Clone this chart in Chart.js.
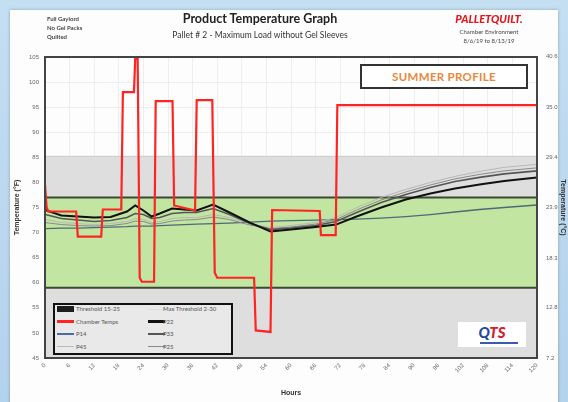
<!DOCTYPE html>
<html lang="en">
<head>
    <meta charset="UTF-8">
    <title>Product Temperature Graph</title>
    <style>
        body {
            margin: 0;
            width: 568px;
            height: 402px;
            overflow: hidden;
            position: relative;
            background: linear-gradient(180deg, #c4def2, #b3d2ec);
            font-family: Lato, "Liberation Sans", sans-serif;
        }
        .card {
            position: absolute;
            left: 10px;
            top: 10px;
            width: 548px;
            height: 400px;
            background: #fdfdfd;
            box-shadow: 0 0 3px rgba(0, 0, 0, 0.25);
        }
        #chart {
            position: absolute;
            left: 0;
            top: 0;
        }
        .txt {
            position: absolute;
            white-space: nowrap;
        }
        .note {
            left: 47px;
            top: 14px;
            font-size: 6px;
            line-height: 9px;
            color: #444;
            font-weight: bold;
        }
        .title {
            left: 155px;
            width: 210px;
            top: 11px;
            text-align: center;
            font-size: 12.5px;
            font-weight: bold;
            color: #222;
        }
        .subtitle {
            left: 135px;
            width: 250px;
            top: 30px;
            text-align: center;
            font-size: 8.5px;
            color: #333;
        }
        .brand {
            left: 445px;
            width: 88px;
            top: 12px;
            text-align: center;
            font-size: 11px;
            font-weight: 900;
            font-style: italic;
            color: #e3161e;
        }
        .env {
            left: 445px;
            width: 88px;
            top: 27px;
            text-align: center;
            font-size: 6px;
            line-height: 9px;
            color: #444;
        }
        .profile {
            position: absolute;
            left: 360px;
            top: 64px;
            width: 164px;
            height: 21px;
            border: 2px solid #333;
            background: #fff;
            color: #e8893a;
            font-weight: bold;
            font-size: 11.5px;
            letter-spacing: 0.3px;
            line-height: 21px;
            text-align: center;
        }
        .legend {
            position: absolute;
            left: 53px;
            top: 303px;
            width: 176px;
            height: 48px;
            border: 2px solid #111;
            background: #e9e9e9;
        }
        .sw {
            position: absolute;
        }
        .lt {
            position: absolute;
            font-size: 6px;
            color: #555;
            white-space: nowrap;
            line-height: 8px;
        }
        .logo {
            position: absolute;
            left: 458px;
            top: 322px;
            width: 68px;
            height: 25px;
            background: #fff;
            text-align: center;
        }
        .logo span {
            font-size: 15px;
            font-weight: 900;
            font-style: italic;
            color: #d3202d;
            line-height: 19px;
        }
        .logo i {
            position: absolute;
            left: 22px;
            top: 20px;
            width: 38px;
            height: 2px;
            background: #3a5bb0;
        }
    </style>
    <script src="https://cdn.jsdelivr.net/npm/chart.js"></script>
</head>
<body>
    <div class="card"></div>
    <canvas id="chart" width="568" height="402"></canvas>

    <div class="txt note">Full Gaylord<br>No Gel Packs<br>Quilted</div>
    <div class="txt title">Product Temperature Graph</div>
    <div class="txt subtitle">Pallet # 2 - Maximum Load without Gel Sleeves</div>
    <div class="txt brand">PALLETQUILT.</div>
    <div class="txt env">Chamber Environment<br>8/6/19 to 8/13/19</div>

    <div class="profile">SUMMER PROFILE</div>

    <div class="legend" id="legend"></div>

    <div class="logo"><span><span style="color:#2448a0">Q</span>TS</span><i></i></div>

    <script>
        // axis ticks
        const hourTicks = [0, 6, 12, 18, 24, 30, 36, 42, 48, 54, 60, 66, 72, 78, 84, 90, 96, 102, 108, 114, 120];
        const fahrenheitTicks = [45, 50, 55, 60, 65, 70, 75, 80, 85, 90, 95, 100, 105];
        const celsiusTicks = [7.2, 12.8, 18.3, 23.9, 29.4, 35.0, 40.6];

        // chamber (step profile)
        const chamberHours = [0, 0.4, 0.8, 7.6, 8.0, 13.7, 14.1, 18.6, 19.0, 21.7, 22.0, 22.6, 23.1, 23.6, 26.6, 27.0,
            31.1, 31.5, 36.6, 37.0, 40.8, 41.4, 42.0, 51.0, 51.4, 55.0, 55.4, 67.0, 67.3, 70.9, 71.3, 120];
        const chamberTemps = [79.5, 75.0, 74.2, 74.2, 69.2, 69.2, 74.6, 74.6, 98.0, 98.0, 104.6, 104.6, 61.0, 60.2, 60.2, 96.2,
            96.2, 75.4, 74.4, 96.4, 96.4, 62.0, 61.0, 61.0, 50.5, 50.2, 74.5, 74.3, 69.5, 69.5, 95.4, 95.4];

        // product probes
        const productHours = [0, 4, 8, 12, 16, 20, 22, 24, 26, 28, 31, 34, 37, 41, 45, 50, 55, 60, 66, 71, 76, 82, 88, 94, 100, 106, 112, 120];
        const p22 = [74.5, 73.4, 73.2, 73.0, 73.1, 74.2, 75.4, 74.4, 73.2, 73.8, 74.8, 74.6, 74.4, 75.6, 74.0, 72.0, 70.2, 70.6, 71.1, 71.6, 73.2, 75.0, 76.6, 77.8, 78.8, 79.6, 80.3, 81.0];
        const p33 = [73.6, 72.8, 72.5, 72.2, 72.4, 73.0, 73.8, 73.6, 72.8, 73.0, 73.8, 74.0, 74.0, 74.8, 73.6, 71.8, 70.6, 70.9, 71.4, 72.2, 74.0, 76.0, 77.6, 79.0, 80.2, 81.0, 81.7, 82.3];
        const p45 = [72.6, 72.0, 71.8, 71.6, 71.8, 72.2, 72.8, 72.6, 72.0, 72.2, 72.8, 73.0, 73.0, 73.6, 73.0, 71.8, 71.0, 71.4, 72.0, 73.0, 75.0, 77.0, 78.6, 80.0, 81.2, 82.2, 83.0, 83.6];
        const p25 = [72.0, 71.6, 71.4, 71.3, 71.4, 71.8, 72.3, 72.2, 71.7, 71.8, 72.3, 72.5, 72.6, 73.1, 72.6, 71.5, 70.8, 71.1, 71.7, 72.6, 74.5, 76.5, 78.1, 79.5, 80.7, 81.6, 82.3, 82.9];
        const p14 = [70.8, 70.9, 70.9, 71.0, 71.1, 71.2, 71.3, 71.3, 71.3, 71.4, 71.5, 71.6, 71.7, 71.8, 71.9, 72.1, 72.3, 72.4, 72.5, 72.6, 72.7, 72.9, 73.2, 73.6, 74.1, 74.6, 75.0, 75.5];

        // threshold bands (deg F)
        const bandHours = [0, 120];
        const thresholdLow = 59;
        const thresholdHigh = 77;
        const maxThresholdHigh = 85.2;

        const pts = (xs, ys) => xs.map((h, i) => ({ x: h, y: ys[i] }));
        const flat = v => bandHours.map(h => ({ x: h, y: v }));

        const line = (label, data, color, width, order) => ({
            label, data, borderColor: color, borderWidth: width, order,
            pointRadius: 0, tension: 0, fill: false
        });

        const frame = {
            id: 'frame',
            afterDatasetsDraw(chart) {
                const a = chart.chartArea, c = chart.ctx;
                c.save();
                c.strokeStyle = '#444';
                c.lineWidth = 2;
                c.strokeRect(a.left, a.top, a.right - a.left, a.bottom - a.top);
                c.restore();
            }
        };

        new Chart(document.getElementById('chart'), {
            type: 'line',
            data: {
                datasets: [
                    line('Chamber Temps', pts(chamberHours, chamberTemps), '#ff2424', 2.2, 1),
                    line('P22', pts(productHours, p22), '#111', 2, 2),
                    line('P33', pts(productHours, p33), '#555', 1.6, 3),
                    line('P45', pts(productHours, p45), '#b8b8b8', 1, 4),
                    line('P25', pts(productHours, p25), '#8a8a8a', 1, 5),
                    line('P14', pts(productHours, p14), '#4d6a78', 1.3, 6),
                    line('Threshold low', flat(thresholdLow), '#3b4a33', 2, 10),
                    Object.assign(line('Threshold 15-25', flat(thresholdHigh), '#3b4a33', 2, 11),
                        { fill: '-1', backgroundColor: '#c2e5a2' }),
                    Object.assign(line('Max Threshold 2-30', flat(maxThresholdHigh), '#c9c9c9', 1, 12),
                        { fill: 'start', backgroundColor: '#dedede' })
                ]
            },
            options: {
                responsive: false,
                animation: false,
                layout: { padding: { top: 57, left: 0, right: 0, bottom: 0 } },
                plugins: { legend: { display: false }, tooltip: { enabled: false } },
                scales: {
                    x: {
                        type: 'linear', min: 0, max: 120,
                        afterBuildTicks: s => { s.ticks = hourTicks.map(v => ({ value: v })); },
                        afterFit: s => { s.height = 44; },
                        ticks: { autoSkip: false, minRotation: 45, maxRotation: 45, font: { size: 6 }, color: '#666', padding: 4 },
                        grid: { color: 'rgba(0,0,0,0.06)', drawTicks: false },
                        border: { display: false },
                        title: { display: true, text: 'Hours', font: { size: 7, weight: 'bold' }, color: '#333', padding: { top: 0, bottom: 5 } }
                    },
                    y: {
                        position: 'left', min: 45, max: 105,
                        afterBuildTicks: s => { s.ticks = fahrenheitTicks.map(v => ({ value: v })); },
                        afterFit: s => { s.width = 45; },
                        ticks: { font: { size: 6 }, color: '#666', padding: 6 },
                        grid: { color: 'rgba(0,0,0,0.06)', drawTicks: false },
                        border: { display: false },
                        title: { display: true, text: 'Temperature (°F)', font: { size: 7, weight: 'bold' }, color: '#333', padding: { top: 13, bottom: 0 } }
                    },
                    y2: {
                        position: 'right', min: 7.22, max: 40.56,
                        afterBuildTicks: s => { s.ticks = celsiusTicks.map(v => ({ value: v })); },
                        afterFit: s => { s.width = 31; },
                        ticks: { font: { size: 6 }, color: '#666', padding: 9, callback: v => v.toFixed(1) },
                        grid: { display: false, drawTicks: false },
                        border: { display: false },
                        title: { display: true, text: 'Temperature (°C)', font: { size: 7, weight: 'bold' }, color: '#333', padding: { top: 1, bottom: 0 } }
                    }
                }
            },
            plugins: [frame]
        });

        // legend rows: [label, kind, color, col, row]
        const legendItems = [
            ['Threshold 15-25', 'box', '#1d1d1d', 0, 0],
            ['Max Threshold 2-30', 'line1', '#dcdcdc', 1, 0],
            ['Chamber Temps', 'line3', '#ff2424', 0, 1],
            ['P22', 'line3', '#111', 1, 1],
            ['P14', 'line2', '#4d6aa8', 0, 2],
            ['P33', 'line2', '#555', 1, 2],
            ['P45', 'line1', '#b8b8b8', 0, 3],
            ['P25', 'line1', '#8a8a8a', 1, 3]
        ];
        const legend = document.getElementById('legend');
        legendItems.forEach(([label, kind, color, col, row]) => {
            const cy = 4 + row * 12.5;
            const sx = col === 0 ? 2 : 93;
            const tx = col === 0 ? 21 : 108;
            const sw = document.createElement('div');
            sw.className = 'sw';
            if (kind === 'box') {
                sw.style.cssText = `left:${sx}px;top:${cy - 3}px;width:17px;height:6px;background:${color}`;
            } else {
                const h = kind === 'line3' ? 2.5 : kind === 'line2' ? 1.8 : 1;
                sw.style.cssText = `left:${sx}px;top:${cy - h / 2}px;width:17px;height:${h}px;background:${color}`;
            }
            legend.appendChild(sw);
            const t = document.createElement('div');
            t.className = 'lt';
            t.textContent = label;
            t.style.left = tx + 'px';
            t.style.top = (cy - 4) + 'px';
            legend.appendChild(t);
        });
    </script>
</body>
</html>
